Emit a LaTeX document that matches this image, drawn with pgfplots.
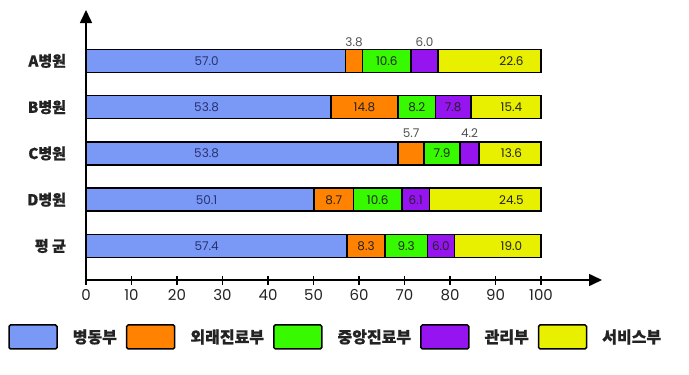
\documentclass[border=0pt]{standalone}
\usepackage{pgfplots}
\pgfplotsset{compat=1.18}
\usepackage{pgfplotstable}
\usepackage{fontspec}
\setmainfont{Poppins}
\newfontfamily\cjk{Noto Sans CJK KR}[FakeBold=0.7]
\usetikzlibrary{arrows.meta}
\definecolor{cBlue}{RGB}{122,152,245}
\definecolor{cOrange}{RGB}{255,130,0}
\definecolor{cGreen}{RGB}{55,250,0}
\definecolor{cPurple}{RGB}{150,20,240}
\definecolor{cYellow}{RGB}{232,240,0}
\definecolor{cNavy}{RGB}{40,50,110}
\definecolor{cDark}{RGB}{35,35,35}
\definecolor{cGray}{RGB}{80,80,80}

% rows: 0 = 평균, 1 = D, 2 = C, 3 = B, 4 = A  (bar lengths as drawn)
\pgfplotstableread{
y x
0 57.4
1 50.1
2 68.6
3 53.8
4 57.0
}\tWard
\pgfplotstableread{
y x
0 8.3
1 8.7
2 5.7
3 14.8
4 3.8
}\tOut
\pgfplotstableread{
y x
0 9.3
1 10.6
2 7.9
3 8.2
4 10.6
}\tCentral
\pgfplotstableread{
y x
0 6.0
1 6.1
2 4.2
3 7.8
4 6.0
}\tAdmin
\pgfplotstableread{
y x
0 19.0
1 24.5
2 13.6
3 15.4
4 22.6
}\tService

% printed value labels
\pgfplotstableread{
x y label
26.5 4 57.0
26.5 3 53.8
26.5 2 53.8
26.5 1 50.1
26.5 0 57.4
}\labBlue
\pgfplotstableread{
x y label
66.1 4 10.6
93.5 4 22.6
61.2 3 14.8
72.7 3 8.2
80.7 3 7.8
93.5 3 15.4
78.25 2 7.9
93.5 2 13.6
54.45 1 8.7
64.1 1 10.6
72.45 1 6.1
93.5 1 24.5
61.55 0 8.3
70.35 0 9.3
78.0 0 6.0
93.5 0 19.0
}\labIn
\pgfplotstableread{
x y label
58.9 4.40 3.8
74.4 4.40 6.0
71.45 2.43 5.7
84.3 2.43 4.2
}\labTop

\pgfplotsset{geom/.style={scale only axis, width=516pt, height=270pt,
  xmin=0, xmax=113.4, ymin=-0.735, ymax=5.1,
  at={(86pt,-280pt)}, anchor=south west}}

\begin{document}
\begin{tikzpicture}
\path[use as bounding box] (0,0) rectangle (689pt,-375pt);
\begin{axis}[geom,
  xbar stacked, bar width=23pt,
  axis lines=left,
  axis line style={line width=1.6pt, -{Triangle[length=13pt,width=12pt]}},
  xtick={0,10,...,100}, xtick align=center, major tick length=9pt,
  xtick style={black, line width=1.4pt},
  /pgf/number format/assume math mode=true,
  xticklabel style={font=\fontsize{15}{17}\selectfont, text=cDark, yshift=-1pt},
  ytick={0,1,2,3,4},
  yticklabels={평\ 균, D병원, C병원, B병원, A병원},
  ytick style={draw=none},
  yticklabel style={font=\cjk\bfseries\fontsize{15}{17}\selectfont, text=cDark, xshift=-12pt},
  every axis plot/.append style={draw=black, line width=1.5pt},
  area legend,
  legend image code/.code={\draw[#1, line width=1.5pt, rounded corners=1.5pt] (0pt,-12pt) rectangle (48pt,12pt);},
  legend columns=5,
  legend style={at={(-0.151,-0.211)}, anchor=west, draw=none, fill=none, inner sep=0pt,
    font=\cjk\bfseries\fontsize{16}{18}\selectfont, text=cDark,
    /tikz/every odd column/.append style={column sep=13pt},
    /tikz/every even column/.append style={column sep=7pt}},
  clip=false,
]
\addplot[fill=cBlue] table[x=x,y=y] {\tWard};
\addplot[fill=cOrange] table[x=x,y=y] {\tOut};
\addplot[fill=cGreen] table[x=x,y=y] {\tCentral};
\addplot[fill=cPurple] table[x=x,y=y] {\tAdmin};
\addplot[fill=cYellow] table[x=x,y=y] {\tService};
\legend{병동부, 외래진료부, 중앙진료부, 관리부, 서비스부}
\end{axis}
\begin{axis}[geom, hide axis, clip=false,
  nodes near coords, point meta=explicit symbolic,
  nodes near coords style={anchor=center, inner sep=0pt, font=\fontsize{12}{14}\selectfont}]
\addplot[draw=none, mark=none, nodes near coords style={text=cNavy}] table[x=x,y=y,meta=label] {\labBlue};
\addplot[draw=none, mark=none, nodes near coords style={text=cDark}] table[x=x,y=y,meta=label] {\labIn};
\addplot[draw=none, mark=none, nodes near coords style={text=cGray}] table[x=x,y=y,meta=label] {\labTop};
\end{axis}
\end{tikzpicture}
\end{document}
